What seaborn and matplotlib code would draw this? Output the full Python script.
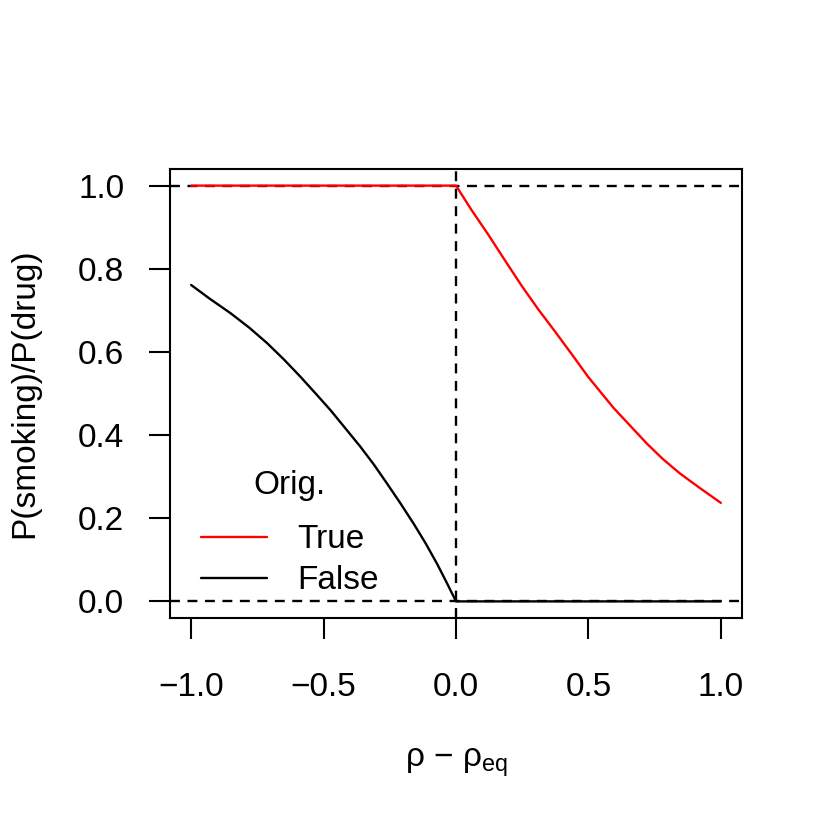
import pandas as pd
import matplotlib
matplotlib.use('Agg')
import matplotlib.pyplot as plt
import seaborn as sns

# values
rho_true = [-1.0, 0.0, 0.06, 0.122, 0.185, 0.248, 0.31, 0.374, 0.44, 0.499,
            0.594, 0.66, 0.72, 0.78, 0.845, 0.92, 1.0]
ratio_true = [1.0, 1.0, 0.940, 0.882, 0.820, 0.759, 0.703, 0.649, 0.592, 0.540,
              0.466, 0.421, 0.380, 0.343, 0.308, 0.273, 0.237]

rho_false = [-1.0, -0.93, -0.851, -0.78, -0.713, -0.65, -0.587, -0.53, -0.474, -0.42,
             -0.361, -0.31, -0.261, -0.21, -0.160, -0.115, -0.072, -0.035, 0.0, 1.0]
ratio_false = [0.761, 0.728, 0.693, 0.658, 0.621, 0.582, 0.540, 0.500, 0.460, 0.418,
               0.372, 0.329, 0.284, 0.236, 0.187, 0.140, 0.091, 0.045, 0.0, 0.0]

x_ticks = [-1.0, -0.5, 0.0, 0.5, 1.0]
y_ticks = [0.0, 0.2, 0.4, 0.6, 0.8, 1.0]
ref_h = [0.0, 1.0]
ref_v = [0.0]

df = pd.concat([
    pd.DataFrame({'rho': rho_true, 'ratio': ratio_true, 'Orig.': 'True'}),
    pd.DataFrame({'rho': rho_false, 'ratio': ratio_false, 'Orig.': 'False'}),
], ignore_index=True)

sns.set_style('ticks')
plt.rcParams['font.family'] = ['Liberation Sans', 'DejaVu Sans']
plt.rcParams['mathtext.fontset'] = 'custom'
plt.rcParams['mathtext.rm'] = 'Liberation Sans'
plt.rcParams['text.color'] = 'black'
plt.rcParams['axes.labelcolor'] = 'black'
plt.rcParams['xtick.color'] = 'black'
plt.rcParams['ytick.color'] = 'black'
plt.rcParams['axes.edgecolor'] = 'black'

fig = plt.figure(figsize=(8.3, 8.3), dpi=100)
ax = fig.add_axes([0.2048, 0.2554, 0.6892, 0.5410])

sns.lineplot(data=df, x='rho', y='ratio', hue='Orig.', hue_order=['True', 'False'],
             palette={'True': 'red', 'False': 'black'}, linewidth=1.7,
             estimator=None, sort=False, ax=ax, zorder=3)

for h in ref_h:
    ax.axhline(h, color='black', lw=1.7, ls=(0, (4.2, 3.2)), zorder=2)
for v in ref_v:
    ax.axvline(v, color='black', lw=1.7, ls=(0, (4.2, 3.2)), zorder=2)

ax.set_xlim(-1.08, 1.08)
ax.set_ylim(-0.04, 1.04)
ax.set_xticks(x_ticks)
ax.set_yticks(y_ticks)
ax.set_xticklabels([f'{t:.1f}'.replace('-', '\u2212') for t in x_ticks])
ax.set_yticklabels([f'{t:.1f}' for t in y_ticks])
ax.tick_params(axis='both', length=15, width=1.5, labelsize=24, direction='out')
ax.tick_params(axis='x', pad=24)
ax.tick_params(axis='y', pad=18)
for s in ax.spines.values():
    s.set_linewidth(1.5)
    s.set_visible(True)

ax.set_xlabel(r'ρ − ρ$_\mathregular{eq}$', fontsize=24, labelpad=31)
ax.set_ylabel('P(smoking)/P(drug)', fontsize=24, labelpad=27)

handles, labels = ax.get_legend_handles_labels()
leg = ax.legend(handles, labels, title='Orig.', loc='lower left',
                bbox_to_anchor=(0.016, 0.0), frameon=False, fontsize=24,
                title_fontsize=24, handlelength=2.0, handletextpad=0.9,
                labelspacing=0.3, borderaxespad=0.25)
# R puts more room between the legend title and its entries
leg._legend_box.sep = 17

fig.savefig('out.png', dpi=100)
